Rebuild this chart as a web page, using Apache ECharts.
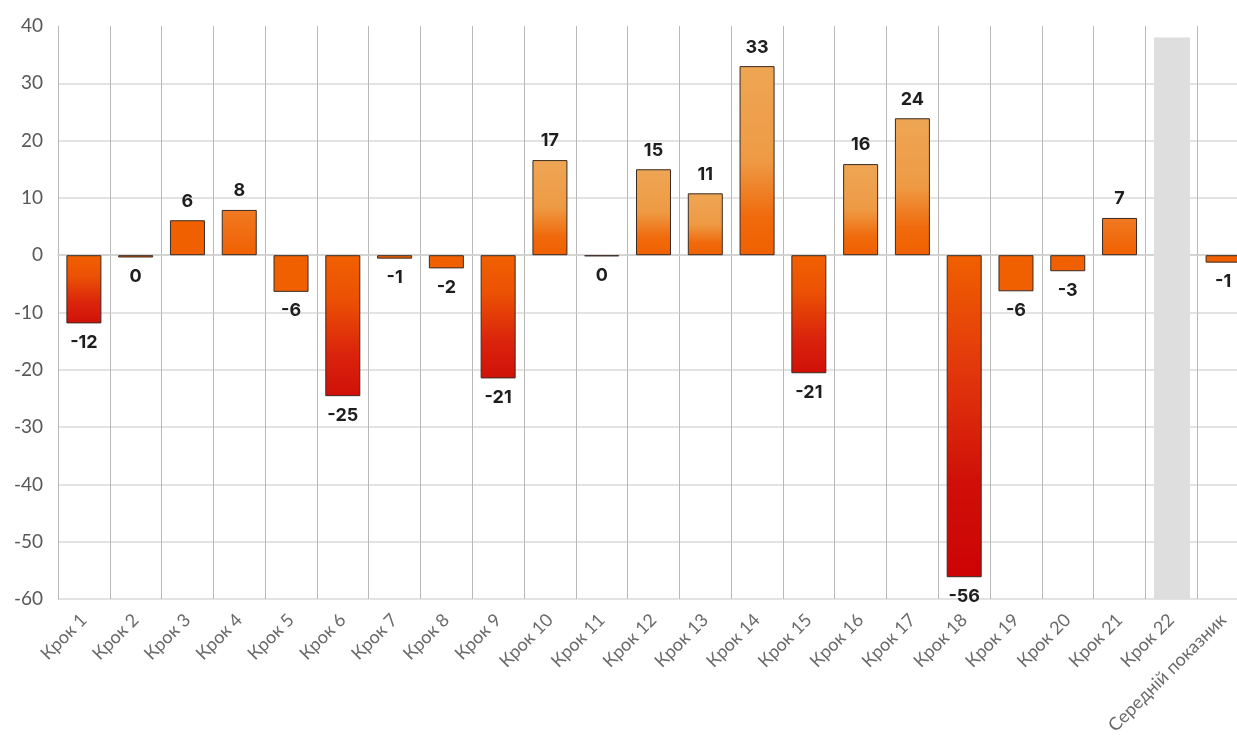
<!DOCTYPE html>
<html>
<head>
<meta charset="utf-8">
<script src="https://cdn.jsdelivr.net/npm/echarts@6/dist/echarts.min.js"></script>
<style>
  html, body { margin: 0; padding: 0; background: #ffffff; overflow: hidden; }
  #chart { width: 1249px; height: 748px; }
</style>
</head>
<body>
<div id="chart"></div>
<script>
const categories = ['Крок 1','Крок 2','Крок 3','Крок 4','Крок 5','Крок 6','Крок 7','Крок 8','Крок 9','Крок 10','Крок 11','Крок 12','Крок 13','Крок 14','Крок 15','Крок 16','Крок 17','Крок 18','Крок 19','Крок 20','Крок 21','Крок 22','Середній показник'];
const values = [-11.9, -0.4, 6.1, 7.9, -6.4, -24.6, -0.6, -2.3, -21.5, 16.6, -0.2, 15.0, 10.8, 33.0, -20.6, 15.9, 23.9, -56.2, -6.3, -2.8, 6.5, null, -1.3];
// Крок 22 has no value: a grey placeholder band spans the plot
const bandCategory = 'Крок 22';
const bandRange = [-60, 38];
const yTicks = { min: -60, max: 40, interval: 10 };

const chart = echarts.init(document.getElementById('chart'), null, { renderer: 'canvas' });

function grad(stops) {
  return { type: 'linear', x: 0, y: 0, x2: 0, y2: 1, colorStops: stops.map(s => ({ offset: s[0], color: s[1] })) };
}
const posGrad = grad([[0, '#EEA654'], [0.5, '#EE9A44'], [0.8, '#F06A0C'], [1, '#F06000']]);
const negGrad = grad([[0, '#F06000'], [0.3, '#EC5204'], [0.7, '#DA240C'], [1, '#D01008']]);
const negGradLong = grad([[0, '#F06000'], [0.35, '#E2380C'], [0.7, '#D01008'], [1, '#CC0404']]);
const smallPosGrad = grad([[0, '#F07A22'], [1, '#F06000']]);
function fillFor(v) {
  if (v >= 10) return posGrad;
  if (v > 6.3) return smallPosGrad;
  if (v >= 0) return '#F06000';
  if (v <= -40) return negGradLong;
  if (v <= -10) return negGrad;
  return '#F06000';
}

const mainData = values.map(v => {
  if (v === null) return null;
  return {
    value: v,
    itemStyle: { color: fillFor(v) },
    label: { position: v >= 0 ? 'top' : 'bottom' }
  };
});

chart.setOption({
  backgroundColor: '#ffffff',
  animation: false,
  grid: { left: 58, right: 0, top: 26, bottom: 149, containLabel: false },
  xAxis: {
    type: 'category',
    data: categories,
    boundaryGap: true,
    axisLine: { show: true, lineStyle: { color: '#cfcfcf', width: 1.5 } },
    axisTick: { show: false },
    splitLine: { show: true, interval: 0, lineStyle: { color: '#b8b8b8', width: 1 } },
    axisLabel: {
      interval: 0, rotate: 45, margin: 18,
      color: '#6a6a6a', fontFamily: 'Lato', fontSize: 18
    }
  },
  yAxis: {
    type: 'value',
    min: yTicks.min, max: yTicks.max, interval: yTicks.interval,
    axisLine: { show: true, lineStyle: { color: '#b8b8b8', width: 1 } },
    axisTick: { show: false },
    splitLine: { show: true, showMaxLine: false, lineStyle: { color: '#dadada', width: 1.5 } },
    axisLabel: { color: '#585858', fontFamily: 'Lato', fontSize: 19, margin: 15 }
  },
  series: [
    {
      name: 'Крок', type: 'bar', data: mainData, barWidth: 35, z: 3,
      itemStyle: { borderColor: '#3a2a22', borderWidth: 1 },
      label: {
        show: true, distance: 10,
        color: '#1e1e1e', fontFamily: 'Inter', fontWeight: 'bold', fontSize: 18,
        formatter: p => String(Math.round(p.value))
      },
      markLine: {
        silent: true,
        symbol: ['none', 'none'],
        label: { show: false },
        emphasis: { disabled: true },
        lineStyle: { color: '#dedede', width: 36, type: 'solid', cap: 'butt', opacity: 1 },
        data: [[{ coord: [bandCategory, bandRange[0]] }, { coord: [bandCategory, bandRange[1]] }]]
      }
    }
  ]
});
</script>
</body>
</html>
